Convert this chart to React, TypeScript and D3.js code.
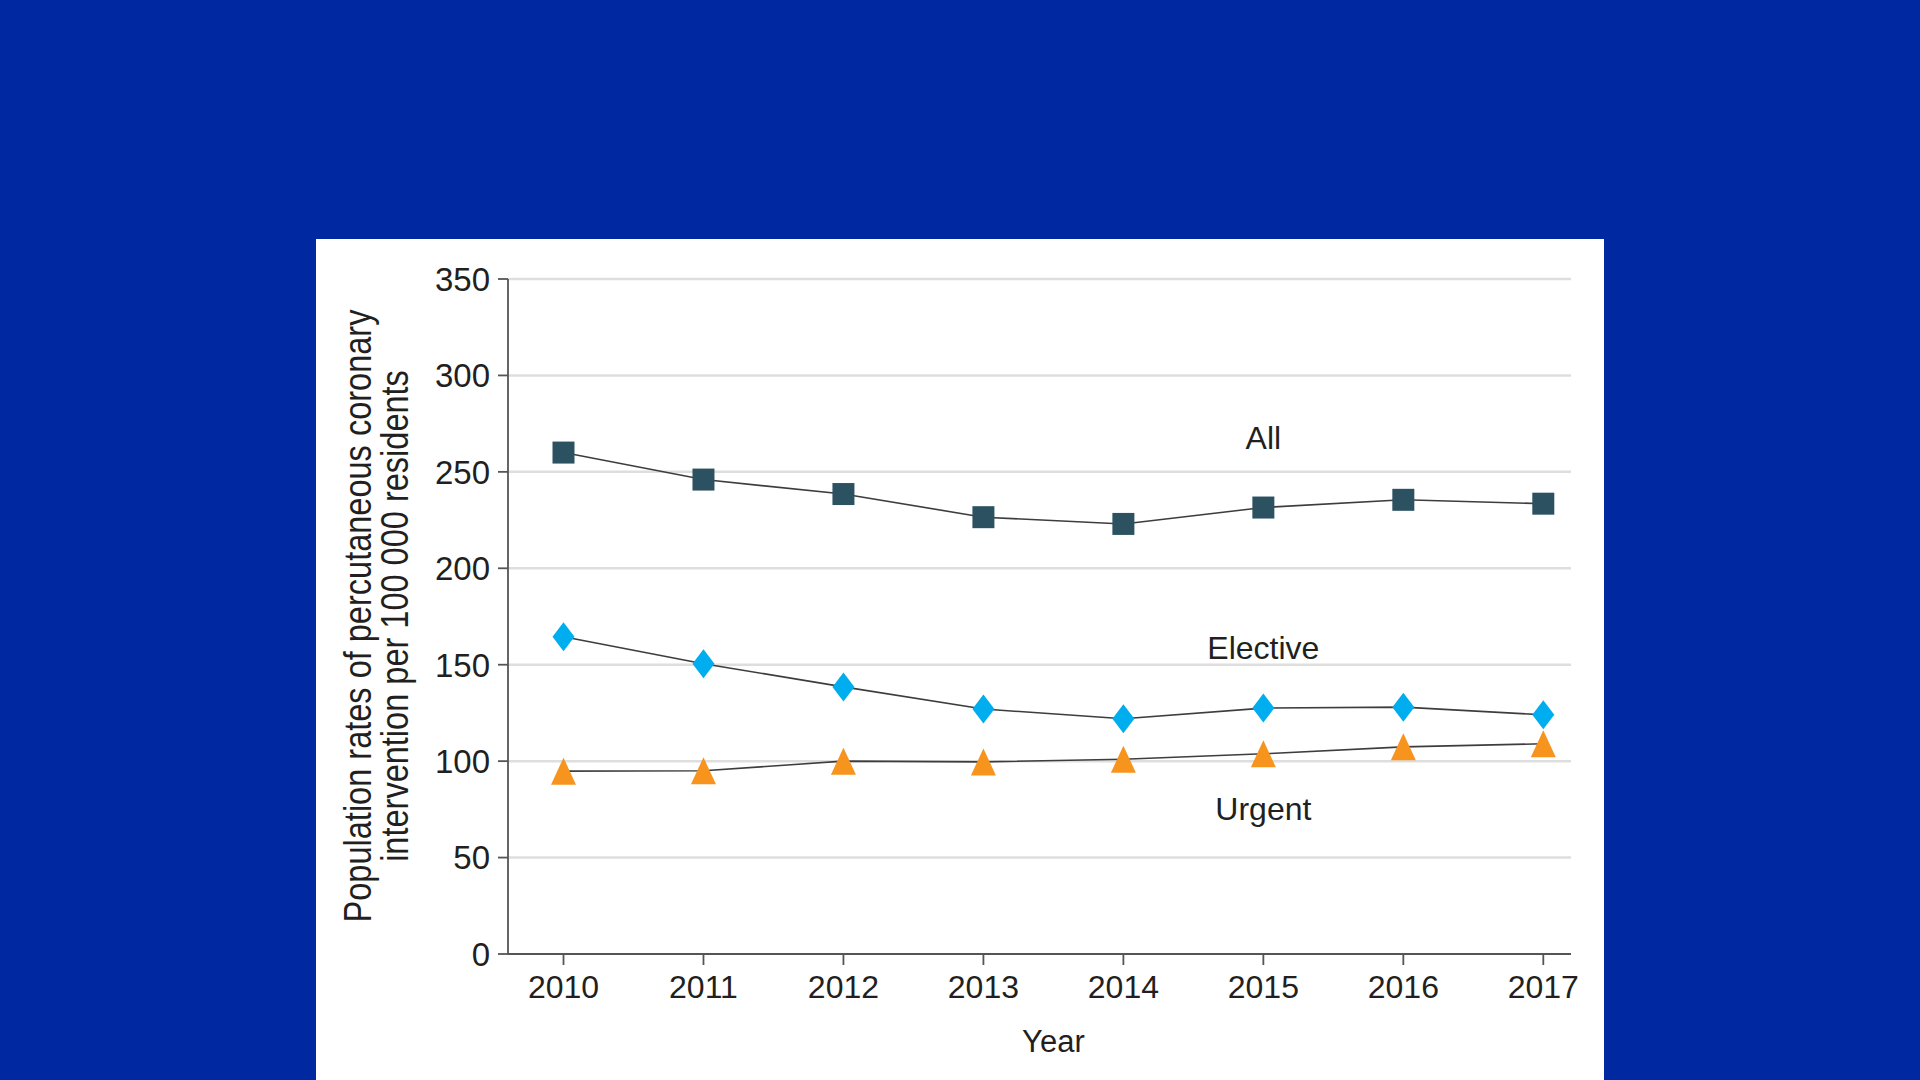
import React from "react";
import * as d3 from "d3";

// values
const years = [2010, 2011, 2012, 2013, 2014, 2015, 2016, 2017];
const allRates = [260, 246, 238.5, 226.5, 223, 231.5, 235.5, 233.5];
const electiveRates = [164.5, 150.5, 138.5, 127, 122, 127.5, 128, 124];
const urgentRates = [94.8, 95, 100, 99.6, 101, 103.8, 107.4, 109];
const yTicks = [0, 50, 100, 150, 200, 250, 300, 350];

const seriesNames = ["All", "Elective", "Urgent"];
const seriesShapes = ["square", "diamond", "triangle"];
const seriesColors = ["#2c5262", "#00aeef", "#f7941d"];
// where the series names sit (year, baseline value)
const labelYears = [2015, 2015, 2015];
const labelValues = [262, 153.2, 69.3];

const W = 1920;
const H = 1080;
const FONT = "'Liberation Sans', Arial, sans-serif";
const TEXT = "#231f20";

const markerPath = (shape: string, cx: number, cy: number) => {
  const p = d3.path();
  if (shape === "square") {
    p.rect(cx - 11, cy - 11, 22, 22);
  } else if (shape === "diamond") {
    p.moveTo(cx, cy - 14.5);
    p.lineTo(cx + 11, cy);
    p.lineTo(cx, cy + 14.5);
    p.lineTo(cx - 11, cy);
    p.closePath();
  } else {
    p.moveTo(cx, cy - 13.5);
    p.lineTo(cx + 12.5, cy + 13.5);
    p.lineTo(cx - 12.5, cy + 13.5);
    p.closePath();
  }
  return p.toString();
};

export default function App() {
  const x = d3.scaleLinear().domain([2010, 2017]).range([563.5, 1543.3]);
  const y = d3.scaleLinear().domain([0, 350]).range([954, 279]);
  const plotLeft = 508;
  const plotRight = 1571;

  const series = [allRates, electiveRates, urgentRates];

  const line = d3
    .line<number>()
    .x((_, i) => x(years[i]))
    .y((d) => y(d));

  return (
    <svg
      width={W}
      height={H}
      style={{ position: "absolute", left: 0, top: 0, display: "block" }}
    >
      <rect width={W} height={H} fill="#0028a0" />
      <rect x={316} y={239} width={1288} height={H - 239} fill="#fff" />

      {/* grid */}
      {yTicks
        .filter((t) => t > 0)
        .map((t) => (
          <line
            key={`g${t}`}
            x1={plotLeft}
            x2={plotRight}
            y1={y(t)}
            y2={y(t)}
            stroke="#dedede"
            strokeWidth={2.5}
          />
        ))}

      {/* y axis */}
      <line x1={plotLeft} x2={plotLeft} y1={y(350)} y2={y(0)} stroke="#555" strokeWidth={1.8} />
      {yTicks.map((t) => (
        <g key={`y${t}`}>
          <line x1={plotLeft - 10} x2={plotLeft} y1={y(t)} y2={y(t)} stroke="#555" strokeWidth={1.8} />
          <text
            x={490}
            y={y(t)}
            dy="0.36em"
            textAnchor="end"
            fontFamily={FONT}
            fontSize={33}
            fill={TEXT}
          >
            {t}
          </text>
        </g>
      ))}

      {/* x axis */}
      <line x1={plotLeft} x2={plotRight} y1={y(0)} y2={y(0)} stroke="#555" strokeWidth={1.8} />
      {years.map((yr) => (
        <g key={`x${yr}`}>
          <line x1={x(yr)} x2={x(yr)} y1={y(0)} y2={y(0) + 11} stroke="#555" strokeWidth={1.8} />
          <text
            x={x(yr)}
            y={998}
            textAnchor="middle"
            fontFamily={FONT}
            fontSize={32}
            fill={TEXT}
          >
            {yr}
          </text>
        </g>
      ))}

      <text
        x={(x(2010) + x(2017)) / 2}
        y={1052}
        textAnchor="middle"
        fontFamily={FONT}
        fontSize={31}
        fill={TEXT}
      >
        Year
      </text>

      {/* y title: condensed by a horizontal squeeze, the narrow face is not installed */}
      <g transform="translate(371, 616) rotate(-90) scale(0.845, 1)" fontFamily={FONT} fontSize={38.5} fill={TEXT}>
        <text x={0} y={0} textAnchor="middle">
          Population rates of percutaneous coronary
        </text>
        <text x={0} y={37} textAnchor="middle">
          intervention per 100 000 residents
        </text>
      </g>

      {/* lines */}
      {series.map((s, i) => (
        <path key={`l${i}`} d={line(s) ?? ""} fill="none" stroke="#3d3d3d" strokeWidth={1.6} />
      ))}

      {/* markers */}
      {series.map((s, i) =>
        s.map((v, j) => (
          <path
            key={`m${i}-${j}`}
            d={markerPath(seriesShapes[i], x(years[j]), y(v))}
            fill={seriesColors[i]}
          />
        ))
      )}

      {/* series names */}
      {seriesNames.map((n, i) => (
        <text
          key={n}
          x={x(labelYears[i])}
          y={y(labelValues[i])}
          textAnchor="middle"
          fontFamily={FONT}
          fontSize={32}
          fill={TEXT}
        >
          {n}
        </text>
      ))}
    </svg>
  );
}
